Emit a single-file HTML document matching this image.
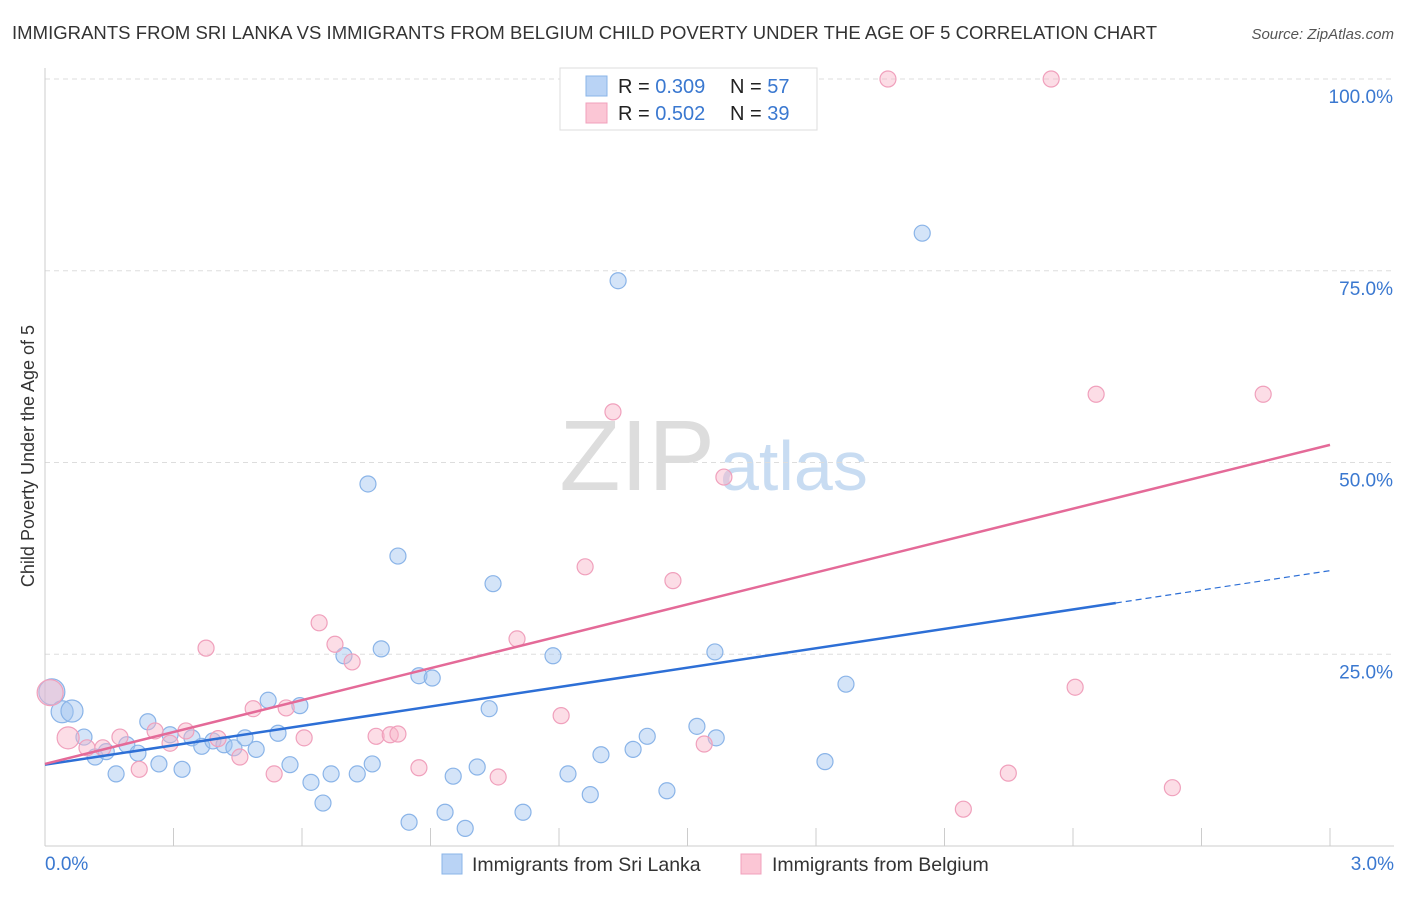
<!DOCTYPE html>
<html><head><meta charset="utf-8"><style>
body{margin:0;background:#fff;font-family:"Liberation Sans",sans-serif;}
svg text{font-family:"Liberation Sans",sans-serif;}
</style></head><body>
<svg id="chart" width="1406" height="892" xmlns="http://www.w3.org/2000/svg">
<text x="12" y="39" font-size="18.5" fill="#333" textLength="1145">IMMIGRANTS FROM SRI LANKA VS IMMIGRANTS FROM BELGIUM CHILD POVERTY UNDER THE AGE OF 5 CORRELATION CHART</text>
<text x="1394" y="39" font-size="15" fill="#555" font-style="italic" text-anchor="end">Source: ZipAtlas.com</text>
<text x="34" y="456" font-size="18" fill="#333" text-anchor="middle" transform="rotate(-90 34 456)">Child Poverty Under the Age of 5</text>
<text x="715" y="490" font-size="100" fill="#ddd" text-anchor="end" font-family="Liberation Serif">ZIP</text>
<text x="720" y="490" font-size="70" fill="#c8dcf2">atlas</text>
<g id="grid"></g><g id="pts"></g><g id="lines"></g>
<g>
<rect x="560" y="68" width="257" height="62" fill="#fff" stroke="#ddd"/>
<rect x="586" y="76" width="21" height="20" fill="#b9d3f5" stroke="#8ab4e8"/>
<rect x="586" y="103" width="21" height="20" fill="#fbc6d5" stroke="#f0a0bc"/>
<text x="618" y="93" font-size="20" fill="#222">R = <tspan fill="#3a78d0">0.309</tspan></text>
<text x="730" y="93" font-size="20" fill="#222">N = <tspan fill="#3a78d0">57</tspan></text>
<text x="618" y="120" font-size="20" fill="#222">R = <tspan fill="#3a78d0">0.502</tspan></text>
<text x="730" y="120" font-size="20" fill="#222">N = <tspan fill="#3a78d0">39</tspan></text>
</g>
<g>
<rect x="442" y="854" width="20" height="20" fill="#b9d3f5" stroke="#8ab4e8"/>
<text x="472" y="871" font-size="19.5" fill="#333">Immigrants from Sri Lanka</text>
<rect x="741" y="854" width="20" height="20" fill="#fbc6d5" stroke="#f0a0bc"/>
<text x="772" y="871" font-size="19.5" fill="#333">Immigrants from Belgium</text>
</g>
</svg>
<script>
const blueX=[0.016,0.040,0.063,0.091,0.117,0.143,0.166,0.191,0.217,0.240,0.266,0.292,0.320,0.343,0.366,0.392,0.418,0.441,0.467,0.493,0.521,0.544,0.572,0.595,0.621,0.649,0.668,0.698,0.729,0.754,0.764,0.785,0.824,0.850,0.873,0.904,0.934,0.953,0.981,1.009,1.037,1.046,1.116,1.186,1.221,1.273,1.298,1.338,1.373,1.406,1.452,1.522,1.564,1.567,1.821,1.870,2.048];
const blueY=[20.1,17.5,17.6,14.2,11.6,12.3,9.4,13.2,12.1,16.2,10.7,14.5,10.0,14.1,13.0,13.7,13.2,12.8,14.1,12.6,19.0,14.7,10.6,18.3,8.3,5.6,9.4,24.8,9.4,47.2,10.7,25.7,37.8,3.1,22.2,21.9,4.4,9.1,2.3,10.3,17.9,34.2,4.4,24.8,9.4,6.7,11.9,73.7,12.6,14.3,7.2,15.6,25.3,14.1,11.0,21.1,79.9];
const pinkX=[0.012,0.054,0.098,0.135,0.175,0.220,0.257,0.292,0.329,0.376,0.404,0.455,0.486,0.535,0.563,0.605,0.640,0.677,0.717,0.773,0.806,0.824,0.873,1.058,1.102,1.205,1.261,1.326,1.466,1.539,1.585,1.968,2.144,2.249,2.349,2.405,2.454,2.632,2.844];
const pinkY=[20.0,14.1,12.8,12.8,14.2,10.0,15.0,13.4,15.0,25.8,14.0,11.6,17.9,9.4,18.0,14.1,29.1,26.3,24.0,14.3,14.5,14.6,10.2,9.0,27.0,17.0,36.4,56.6,34.6,13.3,48.1,100,4.8,9.5,100,20.7,58.9,7.6,58.9];
const blueTrend=[10.6,35.9];
const pinkTrend=[10.7,52.3];
const yTicks=[25,50,75,100];
const yTickLabels=["25.0%","50.0%","75.0%","100.0%"];
const xTicks=[0,0.3,0.6,0.9,1.2,1.5,1.8,2.1,2.4,2.7,3.0];

const NS="http://www.w3.org/2000/svg";
const sx=v=>45+v/3*1285;
const sy=v=>846-v/100*767;
function mk(t,a,p){const e=document.createElementNS(NS,t);for(const k in a)e.setAttribute(k,a[k]);p.appendChild(e);return e;}
const grid=document.getElementById('grid'),pts=document.getElementById('pts'),lines=document.getElementById('lines');
yTicks.forEach((v,i)=>{
 const l=mk('line',{x1:45,x2:1394,y1:sy(v),y2:sy(v),stroke:'#ddd','stroke-dasharray':'5,4'},grid);
 
 
 const t=mk('text',{x:1393,y:sy(v)+24,'font-size':19,fill:'#3a78d0','text-anchor':'end'},grid);
 t.textContent=yTickLabels[i];
 
 
});
const ax=mk('line',{x1:45,x2:1394,y1:846,y2:846,stroke:'#ccc'},grid);


const ay=mk('line',{x1:45,x2:45,y1:68,y2:846,stroke:'#ccc'},grid);


xTicks.forEach(v=>{
 const l=mk('line',{x1:sx(v),x2:sx(v),y1:828,y2:846,stroke:'#ccc'},grid);
 
 
});
const x0=mk('text',{x:45,y:870,'font-size':19,fill:'#3a78d0'},grid);x0.textContent='0.0%';


const x1=mk('text',{x:1394,y:870,'font-size':19,fill:'#3a78d0','text-anchor':'end'},grid);x1.textContent='3.0%';


function dots(X,Y,fill,stroke,name){X.forEach((x,i)=>{
 const r=i<3&&x<0.07?(x<0.02?13:11):8;
 const c=mk('circle',{cx:sx(x),cy:sy(Y[i]),r:r,fill:fill,stroke:stroke,'stroke-width':1.2},pts);
 
 
});}
dots(blueX,blueY,'rgba(160,196,240,0.45)','#8ab4e8','point-sri-lanka');
dots(pinkX,pinkY,'rgba(248,180,200,0.45)','#f0a0bc','point-belgium');
const bAt=x=>blueTrend[0]+(blueTrend[1]-blueTrend[0])*x/3;
const b1=mk('line',{x1:sx(0),y1:sy(bAt(0)),x2:sx(2.5),y2:sy(bAt(2.5)),stroke:'#2d6fd6','stroke-width':2.5},lines);


const b2=mk('line',{x1:sx(2.5),y1:sy(bAt(2.5)),x2:sx(3),y2:sy(bAt(3)),stroke:'#2d6fd6','stroke-width':1.2,'stroke-dasharray':'6,4'},lines);


const p1=mk('line',{x1:sx(0),y1:sy(pinkTrend[0]),x2:sx(3),y2:sy(pinkTrend[1]),stroke:'#e46a98','stroke-width':2.5},lines);


</script>
</body></html>
